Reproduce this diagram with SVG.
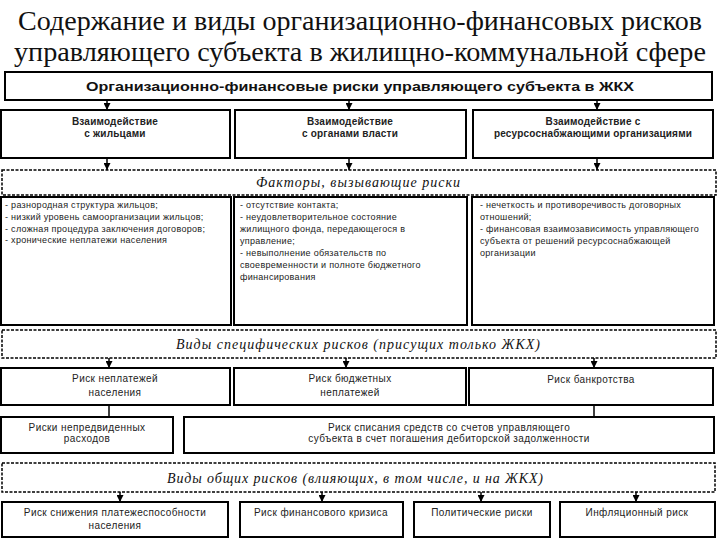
<svg xmlns="http://www.w3.org/2000/svg" width="720" height="540" viewBox="0 0 720 540">
<defs>
<marker id="arr" viewBox="0 0 8 8" refX="8" refY="4" markerWidth="7" markerHeight="7" markerUnits="userSpaceOnUse" orient="auto">
<path d="M0,0 L8,4 L0,8 z" fill="#000"/>
</marker>
<style>
.box{fill:#fff;stroke:#000;stroke-width:2}
.dash{fill:#fff;stroke:#000;stroke-width:1.5;stroke-dasharray:3 1.5}
.title{font-family:"Liberation Serif","Times New Roman",serif;font-size:27px;fill:#111;text-anchor:middle}
.head{font-family:"Liberation Sans",Arial,sans-serif;font-size:13px;font-weight:bold;fill:#111;text-anchor:middle}
.bh{font-family:"Liberation Sans",Arial,sans-serif;font-size:10px;font-weight:bold;fill:#222;text-anchor:middle;letter-spacing:0.2px}
.it{font-family:"Liberation Serif","Times New Roman",serif;font-size:14px;font-style:italic;fill:#111;text-anchor:middle}
.t{font-family:"Liberation Sans",Arial,sans-serif;font-size:9px;fill:#222;letter-spacing:0.3px}
.c{font-family:"Liberation Sans",Arial,sans-serif;font-size:10px;fill:#222;text-anchor:middle;letter-spacing:0.4px}
.ln{stroke:#000;stroke-width:1.5;fill:none}
</style>
</defs>
<rect width="720" height="540" fill="#fff"/>

<g id="title">
<text class="title" x="360" y="30" textLength="684" lengthAdjust="spacingAndGlyphs">Содержание и виды организационно-финансовых рисков</text>
<text class="title" x="360" y="61" textLength="692" lengthAdjust="spacingAndGlyphs">управляющего субъекта в жилищно-коммунальной сфере</text>
</g>

<g id="connectors">
<line class="ln" x1="107" y1="100" x2="107" y2="110" marker-end="url(#arr)"/>
<line class="ln" x1="349" y1="100" x2="349" y2="110" marker-end="url(#arr)"/>
<line class="ln" x1="597" y1="100" x2="597" y2="110" marker-end="url(#arr)"/>
<line class="ln" x1="107" y1="158" x2="107" y2="170" marker-end="url(#arr)"/>
<line class="ln" x1="349" y1="158" x2="349" y2="170" marker-end="url(#arr)"/>
<line class="ln" x1="597" y1="158" x2="597" y2="170" marker-end="url(#arr)"/>
<line class="ln" x1="109" y1="358" x2="109" y2="368" marker-end="url(#arr)"/>
<line class="ln" x1="346" y1="358" x2="346" y2="368" marker-end="url(#arr)"/>
<line class="ln" x1="594" y1="358" x2="594" y2="368" marker-end="url(#arr)"/>
<line class="ln" x1="109" y1="405" x2="109" y2="417"/>
<line class="ln" x1="594" y1="405" x2="594" y2="417"/>
<line class="ln" x1="120" y1="492" x2="120" y2="502" marker-end="url(#arr)"/>
<line class="ln" x1="322" y1="492" x2="322" y2="502" marker-end="url(#arr)"/>
<line class="ln" x1="481" y1="492" x2="481" y2="502" marker-end="url(#arr)"/>
<line class="ln" x1="636" y1="492" x2="636" y2="502" marker-end="url(#arr)"/>
</g>

<g id="root">
<rect class="box" x="5" y="72" width="707" height="28"/>
<text class="head" x="360" y="91" textLength="548" lengthAdjust="spacingAndGlyphs">Организационно-финансовые риски управляющего субъекта в ЖКХ</text>
</g>

<g id="int1">
<rect class="box" x="1" y="110" width="229" height="48"/>
<text class="bh" x="115" y="124.5">Взаимодействие</text>
<text class="bh" x="115" y="136.5">с жильцами</text>
</g>
<g id="int2">
<rect class="box" x="235" y="110" width="231" height="48"/>
<text class="bh" x="350" y="124.5">Взаимодействие</text>
<text class="bh" x="350" y="136.5">с органами власти</text>
</g>
<g id="int3">
<rect class="box" x="473" y="110" width="240" height="48"/>
<text class="bh" x="593" y="124.5">Взаимодействие с</text>
<text class="bh" x="593" y="136.5">ресурсоснабжающими организациями</text>
</g>

<g id="factors">
<rect class="dash" x="2" y="170" width="714" height="25"/>
<text class="it" x="358" y="187" textLength="204" lengthAdjust="spacing">Факторы, вызывающие риски</text>
</g>

<g id="f1">
<rect class="box" x="1" y="197" width="230" height="128"/>
<text class="t" x="5" y="208">- разнородная структура жильцов;</text>
<text class="t" x="5" y="220">- низкий уровень самоорганизации жильцов;</text>
<text class="t" x="5" y="232">- сложная процедура заключения договоров;</text>
<text class="t" x="5" y="243">- хронические неплатежи населения</text>
</g>
<g id="f2">
<rect class="box" x="234" y="197" width="233" height="128"/>
<text class="t" x="240" y="208">- отсутствие контакта;</text>
<text class="t" x="240" y="220">- неудовлетворительное состояние</text>
<text class="t" x="240" y="232">жилищного фонда, передающегося в</text>
<text class="t" x="240" y="244">управление;</text>
<text class="t" x="240" y="256">- невыполнение обязательств по</text>
<text class="t" x="240" y="268">своевременности и полноте бюджетного</text>
<text class="t" x="240" y="280">финансирования</text>
</g>
<g id="f3">
<rect class="box" x="472" y="197" width="242" height="128"/>
<text class="t" x="480" y="208">- нечеткость и противоречивость договорных</text>
<text class="t" x="480" y="220">отношений;</text>
<text class="t" x="480" y="232">- финансовая взаимозависимость управляющего</text>
<text class="t" x="480" y="244">субъекта от решений ресурсоснабжающей</text>
<text class="t" x="480" y="256">организации</text>
</g>

<g id="specific">
<rect class="dash" x="2" y="330" width="714" height="28"/>
<text class="it" x="358" y="349" textLength="364" lengthAdjust="spacing">Виды специфических рисков (присущих только ЖКХ)</text>
</g>

<g id="s1">
<rect class="box" x="1" y="368" width="229" height="37"/>
<text class="c" x="115" y="381.5">Риск неплатежей</text>
<text class="c" x="115" y="395.5">населения</text>
</g>
<g id="s2">
<rect class="box" x="234" y="368" width="232" height="37"/>
<text class="c" x="350" y="381.5">Риск бюджетных</text>
<text class="c" x="350" y="395.5">неплатежей</text>
</g>
<g id="s3">
<rect class="box" x="469" y="368" width="244" height="37"/>
<text class="c" x="591" y="382.5">Риск банкротства</text>
</g>
<g id="s4">
<rect class="box" x="1" y="417" width="172" height="36"/>
<text class="c" x="87" y="430.5">Риски непредвиденных</text>
<text class="c" x="87" y="442">расходов</text>
</g>
<g id="s5">
<rect class="box" x="184" y="417" width="530" height="36"/>
<text class="c" x="449" y="430.5">Риск списания средств со счетов управляющего</text>
<text class="c" x="449" y="442">субъекта в счет погашения дебиторской задолженности</text>
</g>

<g id="general">
<rect class="dash" x="2" y="463" width="713" height="29"/>
<text class="it" x="355" y="483" textLength="376" lengthAdjust="spacing">Виды общих рисков (влияющих, в том числе, и на  ЖКХ)</text>
</g>

<g id="g1">
<rect class="box" x="2" y="502" width="226" height="35"/>
<text class="c" x="115" y="515.5">Риск снижения платежеспособности</text>
<text class="c" x="115" y="528.5">населения</text>
</g>
<g id="g2">
<rect class="box" x="240" y="502" width="163" height="35"/>
<text class="c" x="321" y="515.5">Риск финансового кризиса</text>
</g>
<g id="g3">
<rect class="box" x="414" y="502" width="136" height="35"/>
<text class="c" x="482" y="515.5">Политические риски</text>
</g>
<g id="g4">
<rect class="box" x="560" y="502" width="155" height="35"/>
<text class="c" x="637" y="515.5">Инфляционный риск</text>
</g>
</svg>
